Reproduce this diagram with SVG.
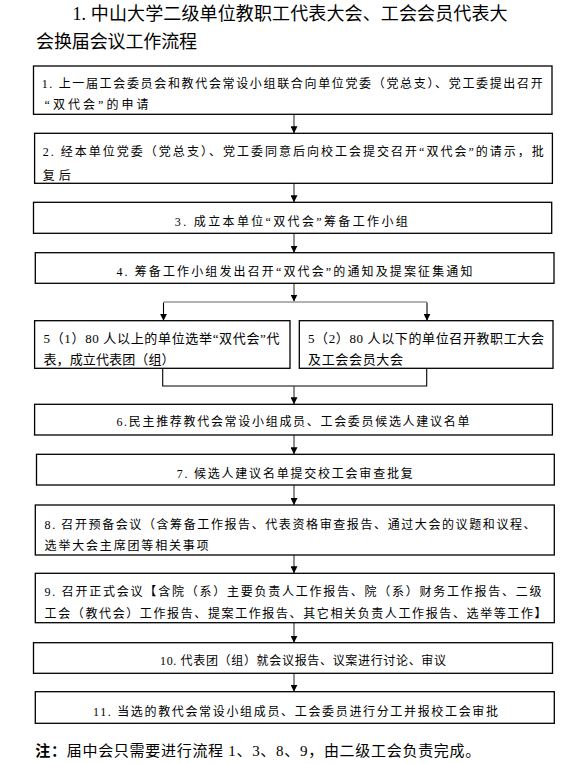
<svg xmlns="http://www.w3.org/2000/svg" width="584" height="764" viewBox="0 0 584 764">
<style>
text{font-family:"Liberation Serif","Noto Sans CJK SC",serif;fill:#000;}
.t{font-size:18px;}
.s{font-size:12px;}
.m{font-size:13px;}
.n{font-size:15px;}
.box{fill:#fff;stroke:#000;stroke-width:1.3;}
.ln{stroke:#333;stroke-width:1.1;fill:none;}
.gr{stroke:#999;stroke-width:1.6;fill:none;}
.bk{stroke:#000;stroke-width:1.1;fill:none;}
</style>
<defs>
<marker id="ah" viewBox="0 0 10 10" refX="10" refY="5" markerWidth="7" markerHeight="7" markerUnits="userSpaceOnUse" orient="auto">
<path d="M0,0 L10,5 L0,10 z" fill="#000"/>
</marker>
</defs>
<rect width="584" height="764" fill="#fff"/>
<g id="title">
<text class="t" x="72.5" y="20" textLength="435" lengthAdjust="spacing">1. 中山大学二级单位教职工代表大会、工会会员代表大</text>
<text class="t" x="36" y="47.5" textLength="161" lengthAdjust="spacing">会换届会议工作流程</text>
</g>
<g id="connectors">
<line class="ln" x1="294" y1="114.3" x2="294" y2="133.3" marker-end="url(#ah)"/>
<line class="ln" x1="294" y1="183.3" x2="294" y2="202.3" marker-end="url(#ah)"/>
<line class="ln" x1="294" y1="233.3" x2="294" y2="252.7" marker-end="url(#ah)"/>
<line class="ln" x1="294" y1="283.3" x2="294" y2="301.5" marker-end="url(#ah)"/>
<line class="gr" x1="163.5" y1="302" x2="427" y2="302"/>
<line class="bk" x1="163.5" y1="302.5" x2="163.5" y2="320.7" marker-end="url(#ah)"/>
<line class="bk" x1="427" y1="302.5" x2="427" y2="320.7" marker-end="url(#ah)"/>
<polyline class="bk" points="162.7,368.3 162.7,386 426.7,386 426.7,368.3"/>
<line class="ln" x1="294" y1="386" x2="294" y2="404.3" marker-end="url(#ah)"/>
<line class="ln" x1="294" y1="435" x2="294" y2="454.3" marker-end="url(#ah)"/>
<line class="ln" x1="294" y1="485" x2="294" y2="505" marker-end="url(#ah)"/>
<line class="ln" x1="294" y1="555" x2="294" y2="573.3" marker-end="url(#ah)"/>
<line class="ln" x1="294" y1="622.7" x2="294" y2="642.7" marker-end="url(#ah)"/>
<line class="ln" x1="294" y1="673.3" x2="294" y2="691.7" marker-end="url(#ah)"/>
</g>
<g id="n1">
<rect class="box" x="33.5" y="66" width="518.5" height="48.3"/>
<text class="s" x="41.7" y="87.5" textLength="501" lengthAdjust="spacing">1. 上一届工会委员会和教代会常设小组联合向单位党委（党总支）、党工委提出召开</text>
<text class="s" x="44.6" y="108.5" textLength="104" lengthAdjust="spacing">“双代会”的申请</text>
</g>
<g id="n2">
<rect class="box" x="34.6" y="133.3" width="517.8" height="50"/>
<text class="s" x="42.8" y="156.2" textLength="501" lengthAdjust="spacing">2. 经本单位党委（党总支）、党工委同意后向校工会提交召开“双代会”的请示，批</text>
<text class="s" x="42.8" y="179.5" textLength="28" lengthAdjust="spacing">复后</text>
</g>
<g id="n3">
<rect class="box" x="33.5" y="202.3" width="518.2" height="31"/>
<text class="s" x="174.8" y="226.2" textLength="233" lengthAdjust="spacing">3. 成立本单位“双代会”筹备工作小组</text>
</g>
<g id="n4">
<rect class="box" x="35.3" y="252.7" width="518.7" height="30.6"/>
<text class="s" x="116.4" y="276" textLength="356" lengthAdjust="spacing">4. 筹备工作小组发出召开“双代会”的通知及提案征集通知</text>
</g>
<g id="n5a">
<rect class="box" x="34.6" y="320.7" width="255.4" height="47.6"/>
<text class="m" x="43.5" y="343.3" textLength="236" lengthAdjust="spacing">5（1）80 人以上的单位选举“双代会”代</text>
<text class="m" x="43.5" y="364.3" textLength="131" lengthAdjust="spacing">表，成立代表团（组）</text>
</g>
<g id="n5b">
<rect class="box" x="299.3" y="320.7" width="253.7" height="47.6"/>
<text class="m" x="308" y="343.3" textLength="236" lengthAdjust="spacing">5（2）80 人以下的单位召开教职工大会</text>
<text class="m" x="308" y="364.3" textLength="95" lengthAdjust="spacing">及工会会员大会</text>
</g>
<g id="n6">
<rect class="box" x="34.6" y="404.3" width="517.8" height="30.7"/>
<text class="s" x="116.4" y="426.2" textLength="353" lengthAdjust="spacing">6.民主推荐教代会常设小组成员、工会委员候选人建议名单</text>
</g>
<g id="n7">
<rect class="box" x="36.5" y="454.3" width="517.8" height="30.7"/>
<text class="s" x="176.7" y="477.8" textLength="236" lengthAdjust="spacing">7. 候选人建议名单提交校工会审查批复</text>
</g>
<g id="n8">
<rect class="box" x="35.3" y="505" width="519" height="50"/>
<text class="s" x="44.6" y="528.5" textLength="491" lengthAdjust="spacing">8. 召开预备会议（含筹备工作报告、代表资格审查报告、通过大会的议题和议程、</text>
<text class="s" x="44.6" y="549.5" textLength="164" lengthAdjust="spacing">选举大会主席团等相关事项</text>
</g>
<g id="n9">
<rect class="box" x="35.3" y="573.3" width="519" height="49.4"/>
<text class="s" x="44.6" y="596.2" textLength="497" lengthAdjust="spacing">9. 召开正式会议【含院（系）主要负责人工作报告、院（系）财务工作报告、二级</text>
<text class="s" x="44.6" y="617.8" textLength="502" lengthAdjust="spacing">工会（教代会）工作报告、提案工作报告、其它相关负责人工作报告、选举等工作】</text>
</g>
<g id="n10">
<rect class="box" x="33.5" y="642.7" width="519" height="30.6"/>
<text class="s" x="160" y="665.2" textLength="286" lengthAdjust="spacing">10. 代表团（组）就会议报告、议案进行讨论、审议</text>
</g>
<g id="n11">
<rect class="box" x="35.3" y="691.7" width="519" height="31.6"/>
<text class="s" x="93" y="716" textLength="405" lengthAdjust="spacing">11. 当选的教代会常设小组成员、工会委员进行分工并报校工会审批</text>
</g>
<g id="note">
<text class="n" x="35.3" y="755.5" textLength="445" lengthAdjust="spacing"><tspan font-weight="bold">注：</tspan>届中会只需要进行流程 1、3、8、9，由二级工会负责完成。</text>
</g>
</svg>
